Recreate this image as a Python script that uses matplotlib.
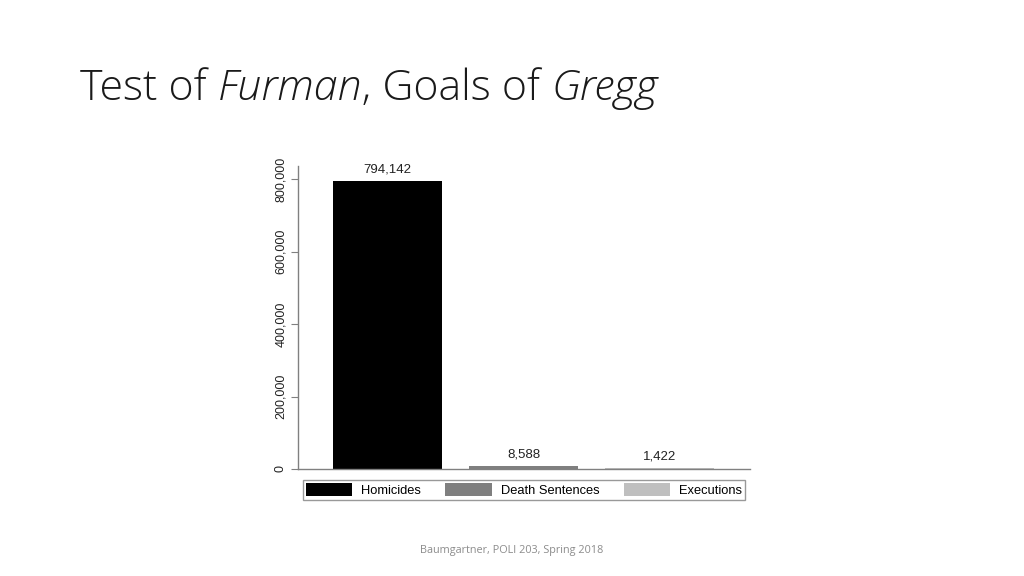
import matplotlib
matplotlib.use("Agg")
import matplotlib.pyplot as plt
from matplotlib.patches import Patch

categories = ["Homicides", "Death Sentences", "Executions"]
values = [794142, 8588, 1422]
bar_colors = ["#000000", "#7f7f7f", "#bfbfbf"]
yticks = [0, 200000, 400000, 600000, 800000]
title_parts = [("Test of ", "normal"), ("Furman", "italic"), (", Goals of ", "normal"), ("Gregg", "italic")]
footer = "Baumgartner, POLI 203, Spring 2018"

plt.rcParams["font.family"] = ["Liberation Sans", "DejaVu Sans"]

fig = plt.figure(figsize=(10.24, 5.76), dpi=100)
ax = fig.add_axes([298 / 1024, 1 - 469 / 576, 452 / 1024, 303 / 576])

x = range(len(values))
ax.bar(x, values, width=0.8, color=bar_colors)
for xi, v in zip(x, values):
    ax.annotate(f"{v:,}", (xi, v), xytext=(0, 4), textcoords="offset points",
                ha="center", va="bottom", fontsize=9.5, color="#222222")

ax.set_xlim(-0.66, 2.665)
ax.set_ylim(0, 836000)
ax.set_xticks([])
ax.set_yticks(yticks)
ax.set_yticklabels([f"{t:,}" for t in yticks], rotation=90, va="center", fontsize=9, color="#222222")
ax.tick_params(axis="y", length=5, width=0.8, color="#808080", pad=3)
for side in ["top", "right"]:
    ax.spines[side].set_visible(False)
for side in ["left", "bottom"]:
    ax.spines[side].set_color("#808080")
    ax.spines[side].set_linewidth(1.0)

handles = [Patch(facecolor=c, edgecolor="none") for c in bar_colors]
leg = fig.legend(handles, categories, ncol=3, loc="center",
                 bbox_to_anchor=(303 / 1024, 1 - 502 / 576, 442 / 1024, 24 / 576),
                 mode="expand", fontsize=9.3, frameon=True, fancybox=False,
                 handlelength=3.6, handleheight=1.2, borderpad=0.2, columnspacing=2.0,
                 handletextpad=0.7, borderaxespad=0)
leg.get_frame().set_edgecolor("#808080")
leg.get_frame().set_linewidth(1.0)

# title with italic parts, laid out piece by piece
fig.canvas.draw()
renderer = fig.canvas.get_renderer()
xpos = 80 / 1024
for text, style in title_parts:
    t = fig.text(xpos, 1 - 100 / 576, text, fontsize=30.9, fontstyle=style,
                 family=["Open Sans", "DejaVu Sans"], fontweight="light",
                 color="#1a1a1a", ha="left", va="baseline")
    bb = t.get_window_extent(renderer)
    xpos = bb.x1 / 1024

fig.text(512 / 1024, 1 - 550 / 576, footer, fontsize=7.8, color="#8c8c8c",
         family=["Open Sans", "DejaVu Sans"], ha="center", va="center")

fig.savefig("out.png", dpi=100)
